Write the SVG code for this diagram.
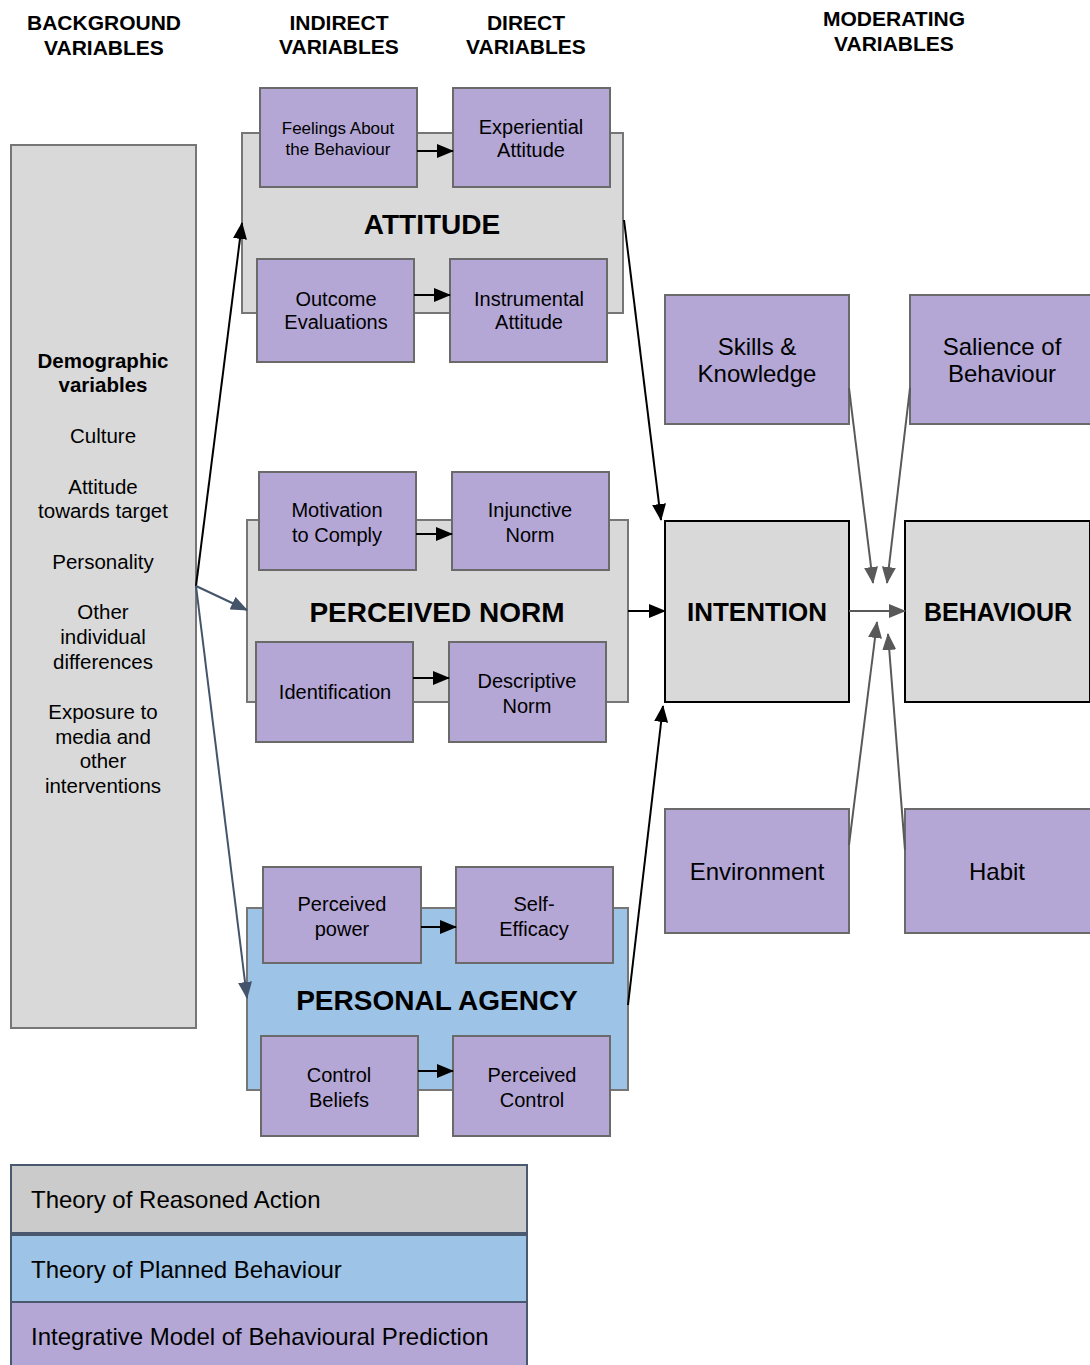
<svg xmlns="http://www.w3.org/2000/svg" width="1090" height="1365" viewBox="0 0 1090 1365">
  <style>
    text { font-family: "Liberation Sans", Arial, sans-serif; fill: #000; text-anchor: middle; }
    .hdr { font-size: 21px; font-weight: bold; }
    .side { font-size: 20.5px; }
    .lbl { font-size: 20px; }
    .sm { font-size: 17px; }
    .big { font-size: 24px; }
    .title { font-size: 28px; font-weight: bold; }
    .core { font-size: 26px; font-weight: bold; }
    .leg { font-size: 24px; text-anchor: start; }
    .grey { fill: #d9d9d9; stroke: #767676; stroke-width: 2; }
    .blue { fill: #9dc3e6; stroke: #767676; stroke-width: 2; }
    .purple { fill: #b4a7d6; stroke: #6a6a6a; stroke-width: 2; }
    .core-box { fill: #d9d9d9; stroke: #000; stroke-width: 2; }
    .leg-box { stroke: #4a5870; stroke-width: 2; }
    .a-black { stroke: #000; stroke-width: 2; fill: none; marker-end: url(#head-black); }
    .a-slate { stroke: #44546a; stroke-width: 2; fill: none; marker-end: url(#head-slate); }
    .a-grey { stroke: #595959; stroke-width: 2; fill: none; marker-end: url(#head-grey); }
  </style>
  <defs>
    <marker id="head-black" markerUnits="userSpaceOnUse" markerWidth="17" markerHeight="14" refX="16" refY="7" orient="auto">
      <path d="M0,0 L17,7 L0,14 Z" fill="#000"/>
    </marker>
    <marker id="head-slate" markerUnits="userSpaceOnUse" markerWidth="17" markerHeight="14" refX="16" refY="7" orient="auto">
      <path d="M0,0 L17,7 L0,14 Z" fill="#44546a"/>
    </marker>
    <marker id="head-grey" markerUnits="userSpaceOnUse" markerWidth="17" markerHeight="14" refX="16" refY="7" orient="auto">
      <path d="M0,0 L17,7 L0,14 Z" fill="#595959"/>
    </marker>
  </defs>

  <rect width="1090" height="1365" fill="#fff"/>

  <!-- column headings -->
  <g id="headings">
    <text class="hdr" x="104" y="30">BACKGROUND</text>
    <text class="hdr" x="104" y="55">VARIABLES</text>
    <text class="hdr" x="339" y="30">INDIRECT</text>
    <text class="hdr" x="339" y="54">VARIABLES</text>
    <text class="hdr" x="526" y="30">DIRECT</text>
    <text class="hdr" x="526" y="54">VARIABLES</text>
    <text class="hdr" x="894" y="26">MODERATING</text>
    <text class="hdr" x="894" y="51">VARIABLES</text>
  </g>

  <!-- background variables panel -->
  <g id="background">
    <rect class="grey" x="11" y="145" width="185" height="883"/>
    <text class="side" x="103" y="368" font-weight="bold">Demographic</text>
    <text class="side" x="103" y="392" font-weight="bold">variables</text>
    <text class="side" x="103" y="443">Culture</text>
    <text class="side" x="103" y="494">Attitude</text>
    <text class="side" x="103" y="518">towards target</text>
    <text class="side" x="103" y="569">Personality</text>
    <text class="side" x="103" y="619">Other</text>
    <text class="side" x="103" y="644">individual</text>
    <text class="side" x="103" y="669">differences</text>
    <text class="side" x="103" y="719">Exposure to</text>
    <text class="side" x="103" y="744">media and</text>
    <text class="side" x="103" y="768">other</text>
    <text class="side" x="103" y="793">interventions</text>
  </g>

  <!-- attitude cluster -->
  <g id="attitude">
    <rect class="grey" x="242" y="133" width="381" height="180"/>
    <text class="title" x="432" y="234">ATTITUDE</text>
  </g>
  <g id="feelings">
    <rect class="purple" x="260" y="88" width="157" height="99"/>
    <text class="sm" x="338" y="134">Feelings About</text>
    <text class="sm" x="338" y="155">the Behaviour</text>
  </g>
  <g id="experiential">
    <rect class="purple" x="453" y="88" width="157" height="99"/>
    <text class="lbl" x="531" y="134">Experiential</text>
    <text class="lbl" x="531" y="157">Attitude</text>
  </g>
  <g id="outcome">
    <rect class="purple" x="257" y="259" width="157" height="103"/>
    <text class="lbl" x="336" y="306">Outcome</text>
    <text class="lbl" x="336" y="329">Evaluations</text>
  </g>
  <g id="instrumental">
    <rect class="purple" x="450" y="259" width="157" height="103"/>
    <text class="lbl" x="529" y="306">Instrumental</text>
    <text class="lbl" x="529" y="329">Attitude</text>
  </g>

  <!-- perceived norm cluster -->
  <g id="perceived-norm">
    <rect class="grey" x="247" y="520" width="381" height="182"/>
    <text class="title" x="437" y="622">PERCEIVED NORM</text>
  </g>
  <g id="motivation">
    <rect class="purple" x="259" y="472" width="157" height="98"/>
    <text class="lbl" x="337" y="517">Motivation</text>
    <text class="lbl" x="337" y="542">to Comply</text>
  </g>
  <g id="injunctive">
    <rect class="purple" x="452" y="472" width="157" height="98"/>
    <text class="lbl" x="530" y="517">Injunctive</text>
    <text class="lbl" x="530" y="542">Norm</text>
  </g>
  <g id="identification">
    <rect class="purple" x="256" y="642" width="157" height="100"/>
    <text class="lbl" x="335" y="699">Identification</text>
  </g>
  <g id="descriptive">
    <rect class="purple" x="449" y="642" width="157" height="100"/>
    <text class="lbl" x="527" y="688">Descriptive</text>
    <text class="lbl" x="527" y="713">Norm</text>
  </g>

  <!-- personal agency cluster -->
  <g id="personal-agency">
    <rect class="blue" x="247" y="908" width="381" height="182"/>
    <text class="title" x="437" y="1010">PERSONAL AGENCY</text>
  </g>
  <g id="perceived-power">
    <rect class="purple" x="263" y="867" width="158" height="96"/>
    <text class="lbl" x="342" y="911">Perceived</text>
    <text class="lbl" x="342" y="936">power</text>
  </g>
  <g id="self-efficacy">
    <rect class="purple" x="456" y="867" width="157" height="96"/>
    <text class="lbl" x="534" y="911">Self-</text>
    <text class="lbl" x="534" y="936">Efficacy</text>
  </g>
  <g id="control-beliefs">
    <rect class="purple" x="261" y="1036" width="157" height="100"/>
    <text class="lbl" x="339" y="1082">Control</text>
    <text class="lbl" x="339" y="1107">Beliefs</text>
  </g>
  <g id="perceived-control">
    <rect class="purple" x="453" y="1036" width="157" height="100"/>
    <text class="lbl" x="532" y="1082">Perceived</text>
    <text class="lbl" x="532" y="1107">Control</text>
  </g>

  <!-- intention and behaviour -->
  <g id="intention">
    <rect class="core-box" x="665" y="521" width="184" height="181"/>
    <text class="core" x="757" y="621">INTENTION</text>
  </g>
  <g id="behaviour">
    <rect class="core-box" x="905" y="521" width="185" height="181"/>
    <text class="core" x="998" y="621" style="font-size:25px">BEHAVIOUR</text>
  </g>

  <!-- moderating variables -->
  <g id="skills">
    <rect class="purple" x="665" y="295" width="184" height="129"/>
    <text class="big" x="757" y="355">Skills &amp;</text>
    <text class="big" x="757" y="382">Knowledge</text>
  </g>
  <g id="salience">
    <rect class="purple" x="910" y="295" width="181" height="129"/>
    <text class="big" x="1002" y="355">Salience of</text>
    <text class="big" x="1002" y="382">Behaviour</text>
  </g>
  <g id="environment">
    <rect class="purple" x="665" y="809" width="184" height="124"/>
    <text class="big" x="757" y="880">Environment</text>
  </g>
  <g id="habit">
    <rect class="purple" x="905" y="809" width="186" height="124"/>
    <text class="big" x="997" y="880">Habit</text>
  </g>

  <!-- connectors -->
  <g id="connectors">
    <line class="a-black" x1="417" y1="151" x2="453" y2="151"/>
    <line class="a-black" x1="414" y1="295" x2="450" y2="295"/>
    <line class="a-black" x1="416" y1="534" x2="452" y2="534"/>
    <line class="a-black" x1="413" y1="678" x2="449" y2="678"/>
    <line class="a-black" x1="421" y1="927" x2="456" y2="927"/>
    <line class="a-black" x1="418" y1="1071" x2="453" y2="1071"/>

    <line class="a-black" x1="196" y1="586" x2="242" y2="223"/>
    <line class="a-slate" x1="196" y1="586" x2="247" y2="610"/>
    <line class="a-slate" x1="196" y1="586" x2="247" y2="998"/>

    <line class="a-black" x1="624" y1="220" x2="661" y2="520"/>
    <line class="a-black" x1="628" y1="611" x2="665" y2="611"/>
    <line class="a-black" x1="628" y1="1005" x2="663" y2="706"/>

    <line class="a-grey" x1="849" y1="611" x2="905" y2="611"/>
    <line class="a-grey" x1="849" y1="388" x2="873" y2="583"/>
    <line class="a-grey" x1="910" y1="388" x2="887" y2="583"/>
    <line class="a-grey" x1="849" y1="845" x2="877" y2="622"/>
    <line class="a-grey" x1="905" y1="850" x2="888" y2="634"/>
  </g>

  <!-- legend -->
  <g id="legend">
    <rect class="leg-box" x="11" y="1165" width="516" height="68" fill="#cbcbcb"/>
    <text class="leg" x="31" y="1208">Theory of Reasoned Action</text>
    <rect class="leg-box" x="11" y="1235" width="516" height="67" fill="#9dc3e6"/>
    <text class="leg" x="31" y="1278">Theory of Planned Behaviour</text>
    <rect class="leg-box" x="11" y="1302" width="516" height="70" fill="#b4a7d6"/>
    <text class="leg" x="31" y="1345">Integrative Model of Behavioural Prediction</text>
  </g>
</svg>
